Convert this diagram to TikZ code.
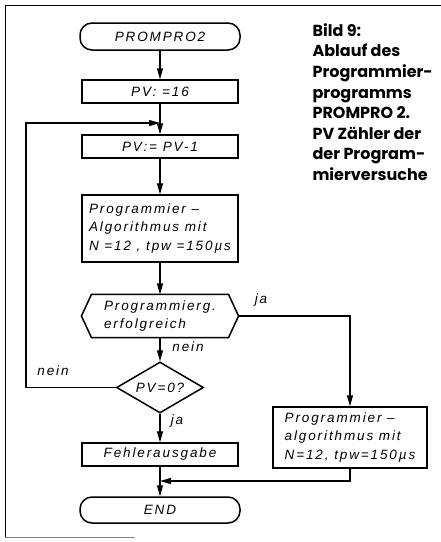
\documentclass[tikz,border=0pt]{standalone}
\usepackage{fontspec}
\setmainfont{Liberation Sans}
\newfontfamily\chartfont[LetterSpace=14]{Liberation Sans}
\newfontfamily\capfont{Poppins}
\usetikzlibrary{arrows.meta,shapes.geometric}

\begin{document}
\begin{tikzpicture}[x=1pt, y=-1pt, >={Triangle[length=11pt,width=6pt]},
  line width=1.1pt,
  txt/.style={font=\chartfont\itshape\fontsize{13.5}{18.5}\selectfont},
  box/.style={draw, line width=1.5pt, rectangle, minimum width=156pt, inner sep=0pt, txt},
  term/.style={box, rounded corners=12pt, minimum width=160pt},
  lbl/.style={txt, inner sep=0pt}]

\useasboundingbox (0,0) rectangle (441,542);

\def\xM{160}
\def\xL{26}
\def\yJ{481}

% frame
\draw[line width=1pt] (441,5) -- (5,5) -- (5,537);
\draw[gray, line width=0.6pt] (5,537) -- (135,537);

% caption
\node[anchor=north west, align=left, inner sep=0pt,
  font=\capfont\bfseries\fontsize{16}{20.6}\selectfont] (caption) at (312,23)
  {Bild 9:\\Ablauf des\\Programmier-\\programms\\PROMPRO 2.\\PV Zähler der\\der Program-\\mierversuche};

\node[term, minimum height=27pt] (start) at (\xM,36.5) {PROMPRO2};
\node[box, minimum height=23pt] (pvset) at (\xM,91.5) {PV: =16};
\node[box, minimum height=23pt] (pvdec) at (\xM,146.5) {PV:= PV-1};
\node[box, minimum height=67pt, align=left] (algo) at (\xM,228.5)
  {Programmier –\\Algorithmus mit\\N =12 , tpw =150µs};
\node[txt, minimum width=156pt, minimum height=42pt, align=left, inner sep=0pt] (test) at (\xM,316)
  {Programmierg.\\erfolgreich};
\draw[line width=1.5pt] (test.west) -- ([xshift=10pt]test.north west) -- ([xshift=-10pt]test.north east)
  -- (test.east) -- ([xshift=-10pt]test.south east) -- ([xshift=10pt]test.south west) -- cycle;
\node[txt, draw, line width=1.5pt, diamond, aspect=1.7, inner sep=0pt,
  minimum width=87pt, minimum height=51pt] (check) at (\xM,387.5) {PV=0?};
\node[box, minimum height=23pt] (error) at (\xM,454.5) {Fehlerausgabe};
\node[term, minimum height=26pt] (end) at (\xM,510) {END};
\node[box, minimum width=154pt, minimum height=61pt, align=left] (algoR) at (350,437.5)
  {Programmier –\\algorithmus mit\\N=12, tpw=150µs};

\coordinate (loopin) at (\xM,123);
\coordinate (loopcorner) at (\xL,123);
\coordinate (join) at (\xM,\yJ);

\draw[->] (start) -- (pvset);
\draw[->] (pvset) -- (pvdec);
\draw[->] (pvdec) -- (algo);
\draw[->] (algo) -- (test);
\draw[->] (test) -- (check);
\draw[->] (check) -- (error);
\draw[->] (error) -- (end);
\draw[->] (check.west) -| (loopcorner) -- (loopin);
\draw[->] (test.east) -| (algoR.north);
\draw[->] (algoR.south) |- (join);

\node[lbl] (jaR) at (261,300) {ja};
\node[lbl] (neinT) at (188,347) {nein};
\node[lbl] (neinL) at (53,371) {nein};
\node[lbl] (jaC) at (177,421) {ja};

\end{tikzpicture}
\end{document}
